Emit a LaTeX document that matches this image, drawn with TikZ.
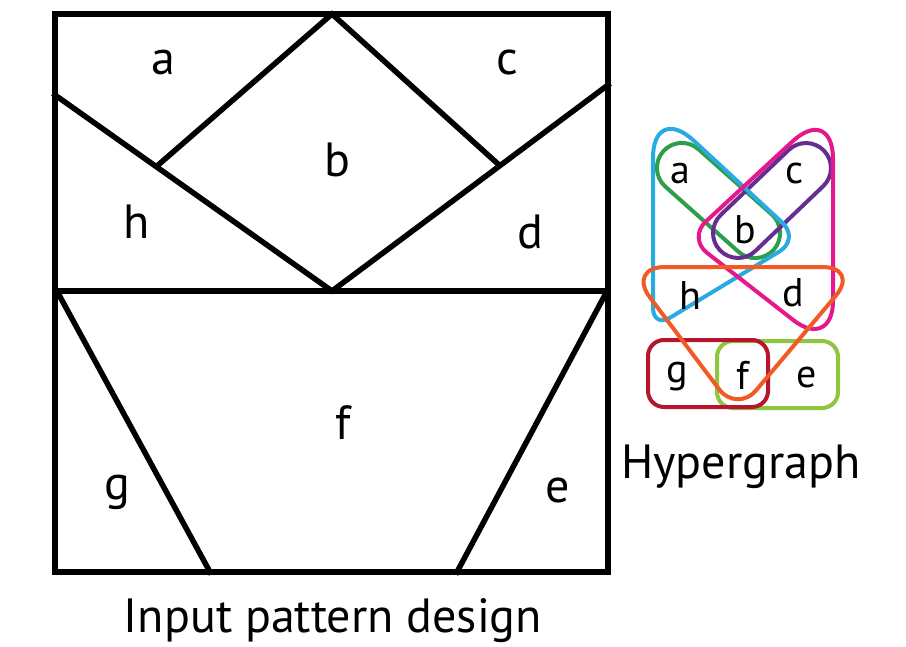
\documentclass[tikz,border=0pt]{standalone}
\usepackage{fontspec}
\setmainfont{PT Sans}
\usetikzlibrary{calc}
\definecolor{hypercyan}{HTML}{29ABE2}
\definecolor{hypermagenta}{HTML}{E6198C}
\definecolor{hypergreen}{HTML}{2E9E4A}
\definecolor{hyperpurple}{HTML}{662D91}
\definecolor{hyperorange}{HTML}{F15A24}
\definecolor{hyperred}{HTML}{B5152E}
\definecolor{hyperlime}{HTML}{8DC63F}

\begin{document}
\begin{tikzpicture}[
    x=1pt, y=-1pt,
    wall/.style={line width=5.5pt, line cap=rect},
    piece/.style={font=\fontsize{48}{48}\selectfont, inner sep=0pt},
    vertex/.style={font=\fontsize{40}{40}\selectfont, inner sep=0pt},
    hedge/.style={line width=4pt, line join=round},
    capsule/.style={hedge, rectangle, rounded corners=25pt,
        minimum height=50pt, inner sep=0pt}
]
\useasboundingbox (0,0) rectangle (906,646);

% input pattern
\coordinate (tl) at (55,14);
\coordinate (br) at (608,572);
\coordinate (ml) at (55,291);
\coordinate (mr) at (608,291);
\coordinate (dtop) at (332,14);
\coordinate (dleft) at (157,166);
\coordinate (dright) at (498,164);
\coordinate (dbot) at (332,291);
\coordinate (hstart) at (55,95);
\coordinate (dend) at (608,85);
\coordinate (gtop) at (58,293);
\coordinate (gbot) at (210,572);
\coordinate (etop) at (606,293);
\coordinate (ebot) at (457,572);

\draw[wall] (tl) rectangle (br);
\draw[wall] (ml) -- (mr);
\draw[wall] (dleft) -- (dtop) -- (dright);
\draw[wall] (hstart) -- (dbot) -- (dend);
\draw[wall] (gtop) -- (gbot);
\draw[wall] (etop) -- (ebot);

\node[piece] (pa) at (163,62) {a};
\node[piece] (pb) at (337,160) {b};
\node[piece] (pc) at (507,62) {c};
\node[piece] (pd) at (530,232) {d};
\node[piece] (pe) at (558,490) {e};
\node[piece] (pf) at (343,423) {f};
\node[piece] (pg) at (117,492) {g};
\node[piece] (ph) at (137,222) {h};

\node[font=\fontsize{48}{48}\selectfont, anchor=base] (caption) at (333,632) {Input pattern design};

% hypergraph
\draw[hedge, draw=hyperlime, rounded corners=16pt] (717,341) rectangle (838,408);
\draw[hedge, draw=hyperred, rounded corners=16pt] (648,340) rectangle (768,407);

\node[capsule, draw=hypergreen, minimum width=148pt, rotate=-41.7] (ab) at (718.5,200.5) {};
\node[capsule, draw=hyperpurple, minimum width=144pt, rotate=43.7] (cb) at (772,200.5) {};

\draw[hedge, draw=hypercyan] (653,215) [rounded corners=20pt] -- (653,328)
    [rounded corners=24pt] -- (800,239) [rounded corners=55pt] -- (653,103)
    [sharp corners] -- cycle;
\draw[hedge, draw=hypermagenta] (833,227) [rounded corners=55pt] -- (833,104)
    [rounded corners=24pt] -- (688,238) [rounded corners=50pt] -- (833,351)
    [sharp corners] -- cycle;
\draw[hedge, draw=hyperorange] (745,267) [rounded corners=38pt] -- (860,267)
    [rounded corners=30pt] -- (737,413) [rounded corners=38pt] -- (627,267)
    [sharp corners] -- cycle;

\node[vertex] (va) at (680,173) {a};
\node[vertex] (vb) at (745,230) {b};
\node[vertex] (vc) at (795,173) {c};
\node[vertex] (vd) at (793,293) {d};
\node[vertex] (ve) at (807,377) {e};
\node[vertex] (vf) at (743,375) {f};
\node[vertex] (vg) at (677,377) {g};
\node[vertex] (vh) at (690,295) {h};

\node[font=\fontsize{48}{48}\selectfont, anchor=base] (title) at (741,478) {Hypergraph};
\end{tikzpicture}
\end{document}
